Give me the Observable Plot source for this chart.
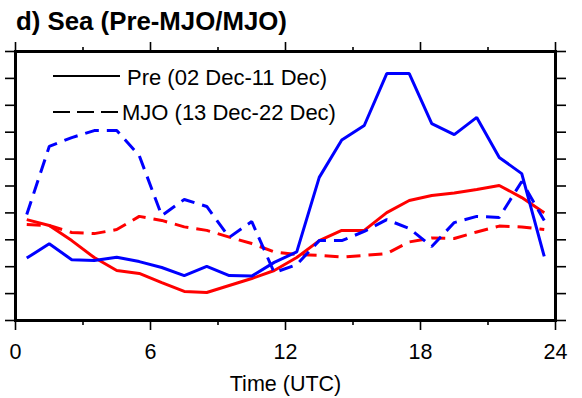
<!DOCTYPE html>
<html><head><meta charset="utf-8">
<script src="https://cdn.jsdelivr.net/npm/d3@7"></script>
<script src="https://cdn.jsdelivr.net/npm/@observablehq/plot@0.6"></script>
<style>
body{margin:0;background:#fff;}
#wrap{position:relative;width:582px;height:398px;overflow:hidden;}
#title{position:absolute;left:16px;top:9px;font:bold 25.8px "Liberation Sans",Arial,Helvetica,sans-serif;line-height:25px;white-space:nowrap;color:#000;}
#chart{position:absolute;left:0;top:0;}
</style></head><body>
<div id="wrap"><div id="chart"></div><div id="title">d) Sea (Pre-MJO/MJO)</div></div>
<script>
// hour of day (UTC), hourly means at half-hours
const hours = [0.5,1.5,2.5,3.5,4.5,5.5,6.5,7.5,8.5,9.5,10.5,11.5,12.5,13.5,14.5,15.5,16.5,17.5,18.5,19.5,20.5,21.5,22.5,23.5];
// values in y-tick units (axis has no labels)
const bluePre = [2.32,2.85,2.26,2.23,2.35,2.19,1.97,1.67,2.01,1.67,1.65,2.16,2.55,5.32,6.71,7.25,9.18,9.18,7.32,6.91,7.55,6.06,5.46,2.38];
const blueMJO = [3.94,6.47,6.80,7.06,7.06,6.13,3.90,4.50,4.24,3.09,3.68,1.78,2.08,2.97,2.97,3.31,3.75,3.42,2.75,3.64,3.87,3.83,5.17,3.72];
const redPre  = [3.75,3.53,2.97,2.34,1.86,1.75,1.41,1.08,1.04,1.30,1.56,1.86,2.34,2.97,3.35,3.35,4.01,4.46,4.65,4.74,4.87,5.02,4.57,4.01];
const redMJO  = [3.57,3.53,3.27,3.23,3.38,3.87,3.72,3.48,3.35,3.10,2.86,2.55,2.45,2.42,2.36,2.42,2.49,2.92,3.07,3.05,3.29,3.51,3.48,3.38];

const xMajor = [0,6,12,18,24];
const xMinor = [3,9,15,21];
const yTicks = [0,1,2,3,4,5,6,7,8,9,10];
const xLabel = "Time (UTC)";
const legendLabels = ["Pre (02 Dec-11 Dec)", "MJO (13 Dec-22 Dec)"];
const legendDash = [null, "17,7"];

const FONT = '"Liberation Sans", Arial, Helvetica, sans-serif';

const series = [
  {values: redPre,  color: "#ff0000", dash: null},
  {values: redMJO,  color: "#ff0000", dash: "14,8"},
  {values: bluePre, color: "#0000ff", dash: null},
  {values: blueMJO, color: "#0000ff", dash: "14,8"}
];

const lineMarks = series.map(s => Plot.line(hours.map((h, i) => ({x: h, y: s.values[i]})), {
  x: "x", y: "y", stroke: s.color, strokeWidth: 3, strokeDasharray: s.dash || undefined,
  strokeLinejoin: "miter", strokeLinecap: "butt"
}));

function legendMark(index, scales, values, dims) {
  const g = d3.create("svg:g");
  const x0 = dims.marginLeft;
  const y0 = dims.marginTop;
  legendLabels.forEach((lab, i) => {
    const y = y0 + 25 + i * 36;
    const ln = g.append("line")
      .attr("x1", x0 + 38).attr("x2", x0 + (i === 0 ? 105 : 104))
      .attr("y1", y).attr("y2", y)
      .attr("stroke", "#000").attr("stroke-width", 2);
    if (legendDash[i]) ln.attr("stroke-dasharray", legendDash[i]);
    g.append("text")
      .attr("x", x0 + (i === 0 ? 112 : 107)).attr("y", y + (i === 0 ? 8.5 : 7.5))
      .attr("text-anchor", "start")
      .attr("font-family", FONT).attr("font-size", 22).attr("fill", "#000")
      .text(lab);
  });
  return g.node();
}

const chart = Plot.plot({
  width: 582, height: 398,
  marginLeft: 15, marginRight: 27, marginTop: 51, marginBottom: 78,
  style: {fontFamily: FONT, fontSize: "21.5px", background: "white", color: "#000"},
  x: {domain: [0, 24], label: null},
  y: {domain: [0, 10], label: null},
  marks: [
    ...lineMarks,
    Plot.axisX({anchor: "bottom", ticks: xMajor, tickSize: 10, tickPadding: 13, strokeWidth: 1.6, fontSize: 21.5, label: null, tickFormat: d => String(d)}),
    Plot.axisX({anchor: "bottom", ticks: xMinor, tickSize: 5, strokeWidth: 1.6, label: null, tickFormat: () => ""}),
    Plot.axisX({anchor: "top", ticks: xMajor, tickSize: 10, strokeWidth: 1.6, label: null, tickFormat: () => ""}),
    Plot.axisX({anchor: "top", ticks: xMinor, tickSize: 5, strokeWidth: 1.6, label: null, tickFormat: () => ""}),
    Plot.axisY({anchor: "left", ticks: yTicks, tickSize: 10, strokeWidth: 1.6, label: null, tickFormat: () => ""}),
    Plot.axisY({anchor: "right", ticks: yTicks, tickSize: 10, strokeWidth: 1.6, label: null, tickFormat: () => ""}),
    Plot.frame({stroke: "#000", strokeWidth: 3}),
    Plot.text([xLabel], {frameAnchor: "bottom", dy: 70, lineAnchor: "bottom", fontSize: 21.5, fill: "#000"}),
    legendMark
  ]
});
document.getElementById("chart").appendChild(chart);
</script>
</body></html>
